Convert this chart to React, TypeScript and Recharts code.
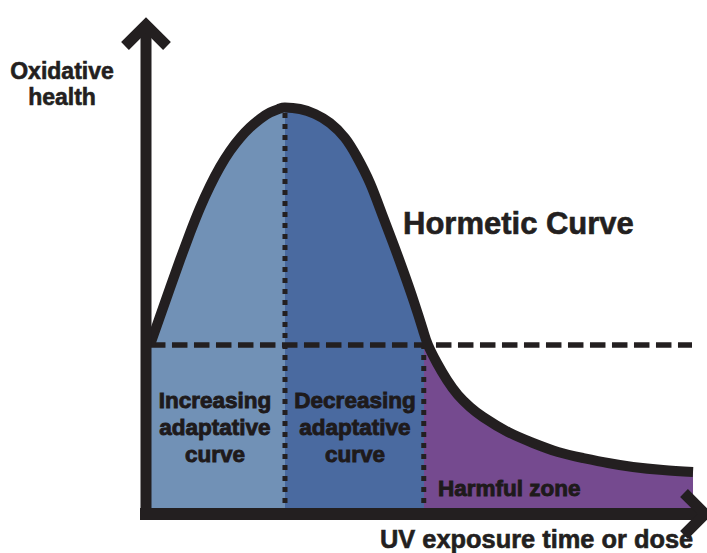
import React from 'react';
import { ComposedChart, Area, Line, XAxis, YAxis, ReferenceLine, ReferenceDot } from 'recharts';

// UV exposure (dose) and oxidative health
const doseValues = [
  0.71, 2.5, 4.29, 6.07, 7.86, 9.64, 11.43, 13.21, 15.0, 16.79, 18.57, 20.36, 22.14, 23.93, 24.82,
  27.5, 30.18, 32.86, 35.54, 37.68, 40.0, 42.14, 44.11, 46.07, 47.86, 49.46, 50.36,
  51.96, 53.75, 55.71, 57.86, 60.18, 64.64, 69.11, 73.57, 78.04, 82.5, 86.96, 92.32, 97.68,
];
const healthValues = [
  34.0, 39.74, 45.47, 51.11, 56.54, 61.57, 66.0, 69.82, 73.04, 75.65, 77.77, 79.48, 80.78, 81.59, 81.79,
  81.49, 80.48, 78.67, 75.65, 71.83, 66.6, 60.36, 54.53, 48.49, 42.66, 37.02, 34.0,
  30.38, 26.96, 23.94, 21.53, 19.52, 16.5, 14.29, 12.47, 11.27, 10.26, 9.46, 8.85, 8.45,
];

const thresholdHealth = 34;
const peakDose = 24.82;
const peakHealth = 81.8;
const harmfulStartDose = 49.6;
const dashEndDose = 97.5;
const axisMin = 0;
const axisMax = 100;

const zoneColors = ['#7191B6', '#4A6AA0', '#754A8F'];
const ink = '#231F20';

const yAxisLabel = ['Oxidative', 'health'];
const xAxisLabel = 'UV exposure time or dose';
const curveTitle = 'Hormetic Curve';
const increasingLabel = ['Increasing', 'adaptative', 'curve'];
const decreasingLabel = ['Decreasing', 'adaptative', 'curve'];
const harmfulLabel = 'Harmful zone';

const data = doseValues.map((d, i) => ({ dose: d, health: healthValues[i] }));
const firstDose = doseValues[0];
const lastDose = doseValues[doseValues.length - 1];
const stop1 = (peakDose - firstDose) / (lastDose - firstDose);
const stop2 = (harmfulStartDose - firstDose) / (lastDose - firstDose);

const font = "'Liberation Sans', Arial, Helvetica, sans-serif";

const YArrow = (props: any) => {
  const { cx, cy } = props;
  const a = cy + 8;
  return (
    <polyline
      points={`${cx - 21},${a + 21} ${cx},${a} ${cx + 21},${a + 21}`}
      fill="none"
      stroke={ink}
      strokeWidth={11}
      strokeLinejoin="miter"
    />
  );
};

const XArrow = (props: any) => {
  const { cx, cy } = props;
  const a = cx - 1;
  return (
    <polyline
      points={`${a - 21},${cy - 21} ${a},${cy} ${a - 21},${cy + 21}`}
      fill="none"
      stroke={ink}
      strokeWidth={11}
      strokeLinejoin="miter"
    />
  );
};

const txt = {
  fontFamily: font,
  fontWeight: 700,
  fill: ink,
  stroke: ink,
  strokeWidth: 0.6,
} as const;

const zoneTxt = { ...txt, fill: '#1E1A1B', stroke: '#1E1A1B', strokeWidth: 0.9 } as const;

export default function App() {
  return (
    <div style={{ position: 'absolute', left: 0, top: 0, width: 707, height: 553, background: '#fff' }}>
      <ComposedChart
        width={707}
        height={553}
        data={data}
        margin={{ top: 17, right: 1, bottom: 39, left: 146 }}
      >
        <defs>
          <linearGradient id="zones" x1="0" y1="0" x2="1" y2="0">
            <stop offset={0} stopColor={zoneColors[0]} />
            <stop offset={stop1} stopColor={zoneColors[0]} />
            <stop offset={stop1} stopColor={zoneColors[1]} />
            <stop offset={stop2} stopColor={zoneColors[1]} />
            <stop offset={stop2} stopColor={zoneColors[2]} />
            <stop offset={1} stopColor={zoneColors[2]} />
          </linearGradient>
        </defs>
        <XAxis dataKey="dose" type="number" domain={[axisMin, axisMax]} hide allowDataOverflow />
        <YAxis type="number" domain={[axisMin, axisMax]} hide allowDataOverflow />
        <Area
          dataKey="health"
          type="natural"
          fill="url(#zones)"
          fillOpacity={1}
          stroke="none"
          isAnimationActive={false}
        />
        <ReferenceLine
          segment={[{ x: firstDose, y: thresholdHealth }, { x: dashEndDose, y: thresholdHealth }]}
          stroke={ink}
          strokeWidth={5.5}
          strokeDasharray="15.5 6.5"
          ifOverflow="visible"
        />
        <ReferenceLine
          segment={[{ x: peakDose, y: axisMin }, { x: peakDose, y: peakHealth }]}
          stroke={ink}
          strokeWidth={5}
          strokeDasharray="5 6"
          ifOverflow="visible"
        />
        <ReferenceLine
          segment={[{ x: harmfulStartDose, y: axisMin }, { x: harmfulStartDose, y: thresholdHealth }]}
          stroke={ink}
          strokeWidth={5}
          strokeDasharray="5 6"
          ifOverflow="visible"
        />
        <Line
          dataKey="health"
          type="natural"
          stroke={ink}
          strokeWidth={10}
          dot={false}
          activeDot={false}
          isAnimationActive={false}
        />
        <ReferenceLine
          segment={[{ x: axisMin, y: -1.2 }, { x: axisMin, y: 98.4 }]}
          stroke={ink}
          strokeWidth={11}
          ifOverflow="visible"
        />
        <ReferenceLine
          segment={[{ x: -1.07, y: axisMin }, { x: 99.8, y: axisMin }]}
          stroke={ink}
          strokeWidth={12}
          ifOverflow="visible"
        />
        <ReferenceDot x={axisMin} y={axisMax} r={1} shape={YArrow} ifOverflow="visible" />
        <ReferenceDot x={axisMax} y={axisMin} r={1} shape={XArrow} ifOverflow="visible" />
      </ComposedChart>
      <svg
        width={707}
        height={553}
        style={{ position: 'absolute', left: 0, top: 0, pointerEvents: 'none' }}
      >
        <text {...txt} fontSize={23} textAnchor="middle" x={62} y={79}>{yAxisLabel[0]}</text>
        <text {...txt} fontSize={23} textAnchor="middle" x={62} y={105}>{yAxisLabel[1]}</text>
        <text {...txt} fontSize={31} textAnchor="start" x={403} y={234}>{curveTitle}</text>
        {increasingLabel.map((s, i) => (
          <text key={'inc' + i} {...zoneTxt} fontSize={22.5} textAnchor="middle" x={215} y={408 + i * 27}>{s}</text>
        ))}
        {decreasingLabel.map((s, i) => (
          <text key={'dec' + i} {...zoneTxt} fontSize={22.5} textAnchor="middle" x={355} y={408 + i * 27}>{s}</text>
        ))}
        <text {...zoneTxt} fontSize={22.5} textAnchor="start" x={438} y={496}>{harmfulLabel}</text>
        <text {...txt} fontSize={25.4} textAnchor="start" x={380} y={548}>{xAxisLabel}</text>
      </svg>
    </div>
  );
}
